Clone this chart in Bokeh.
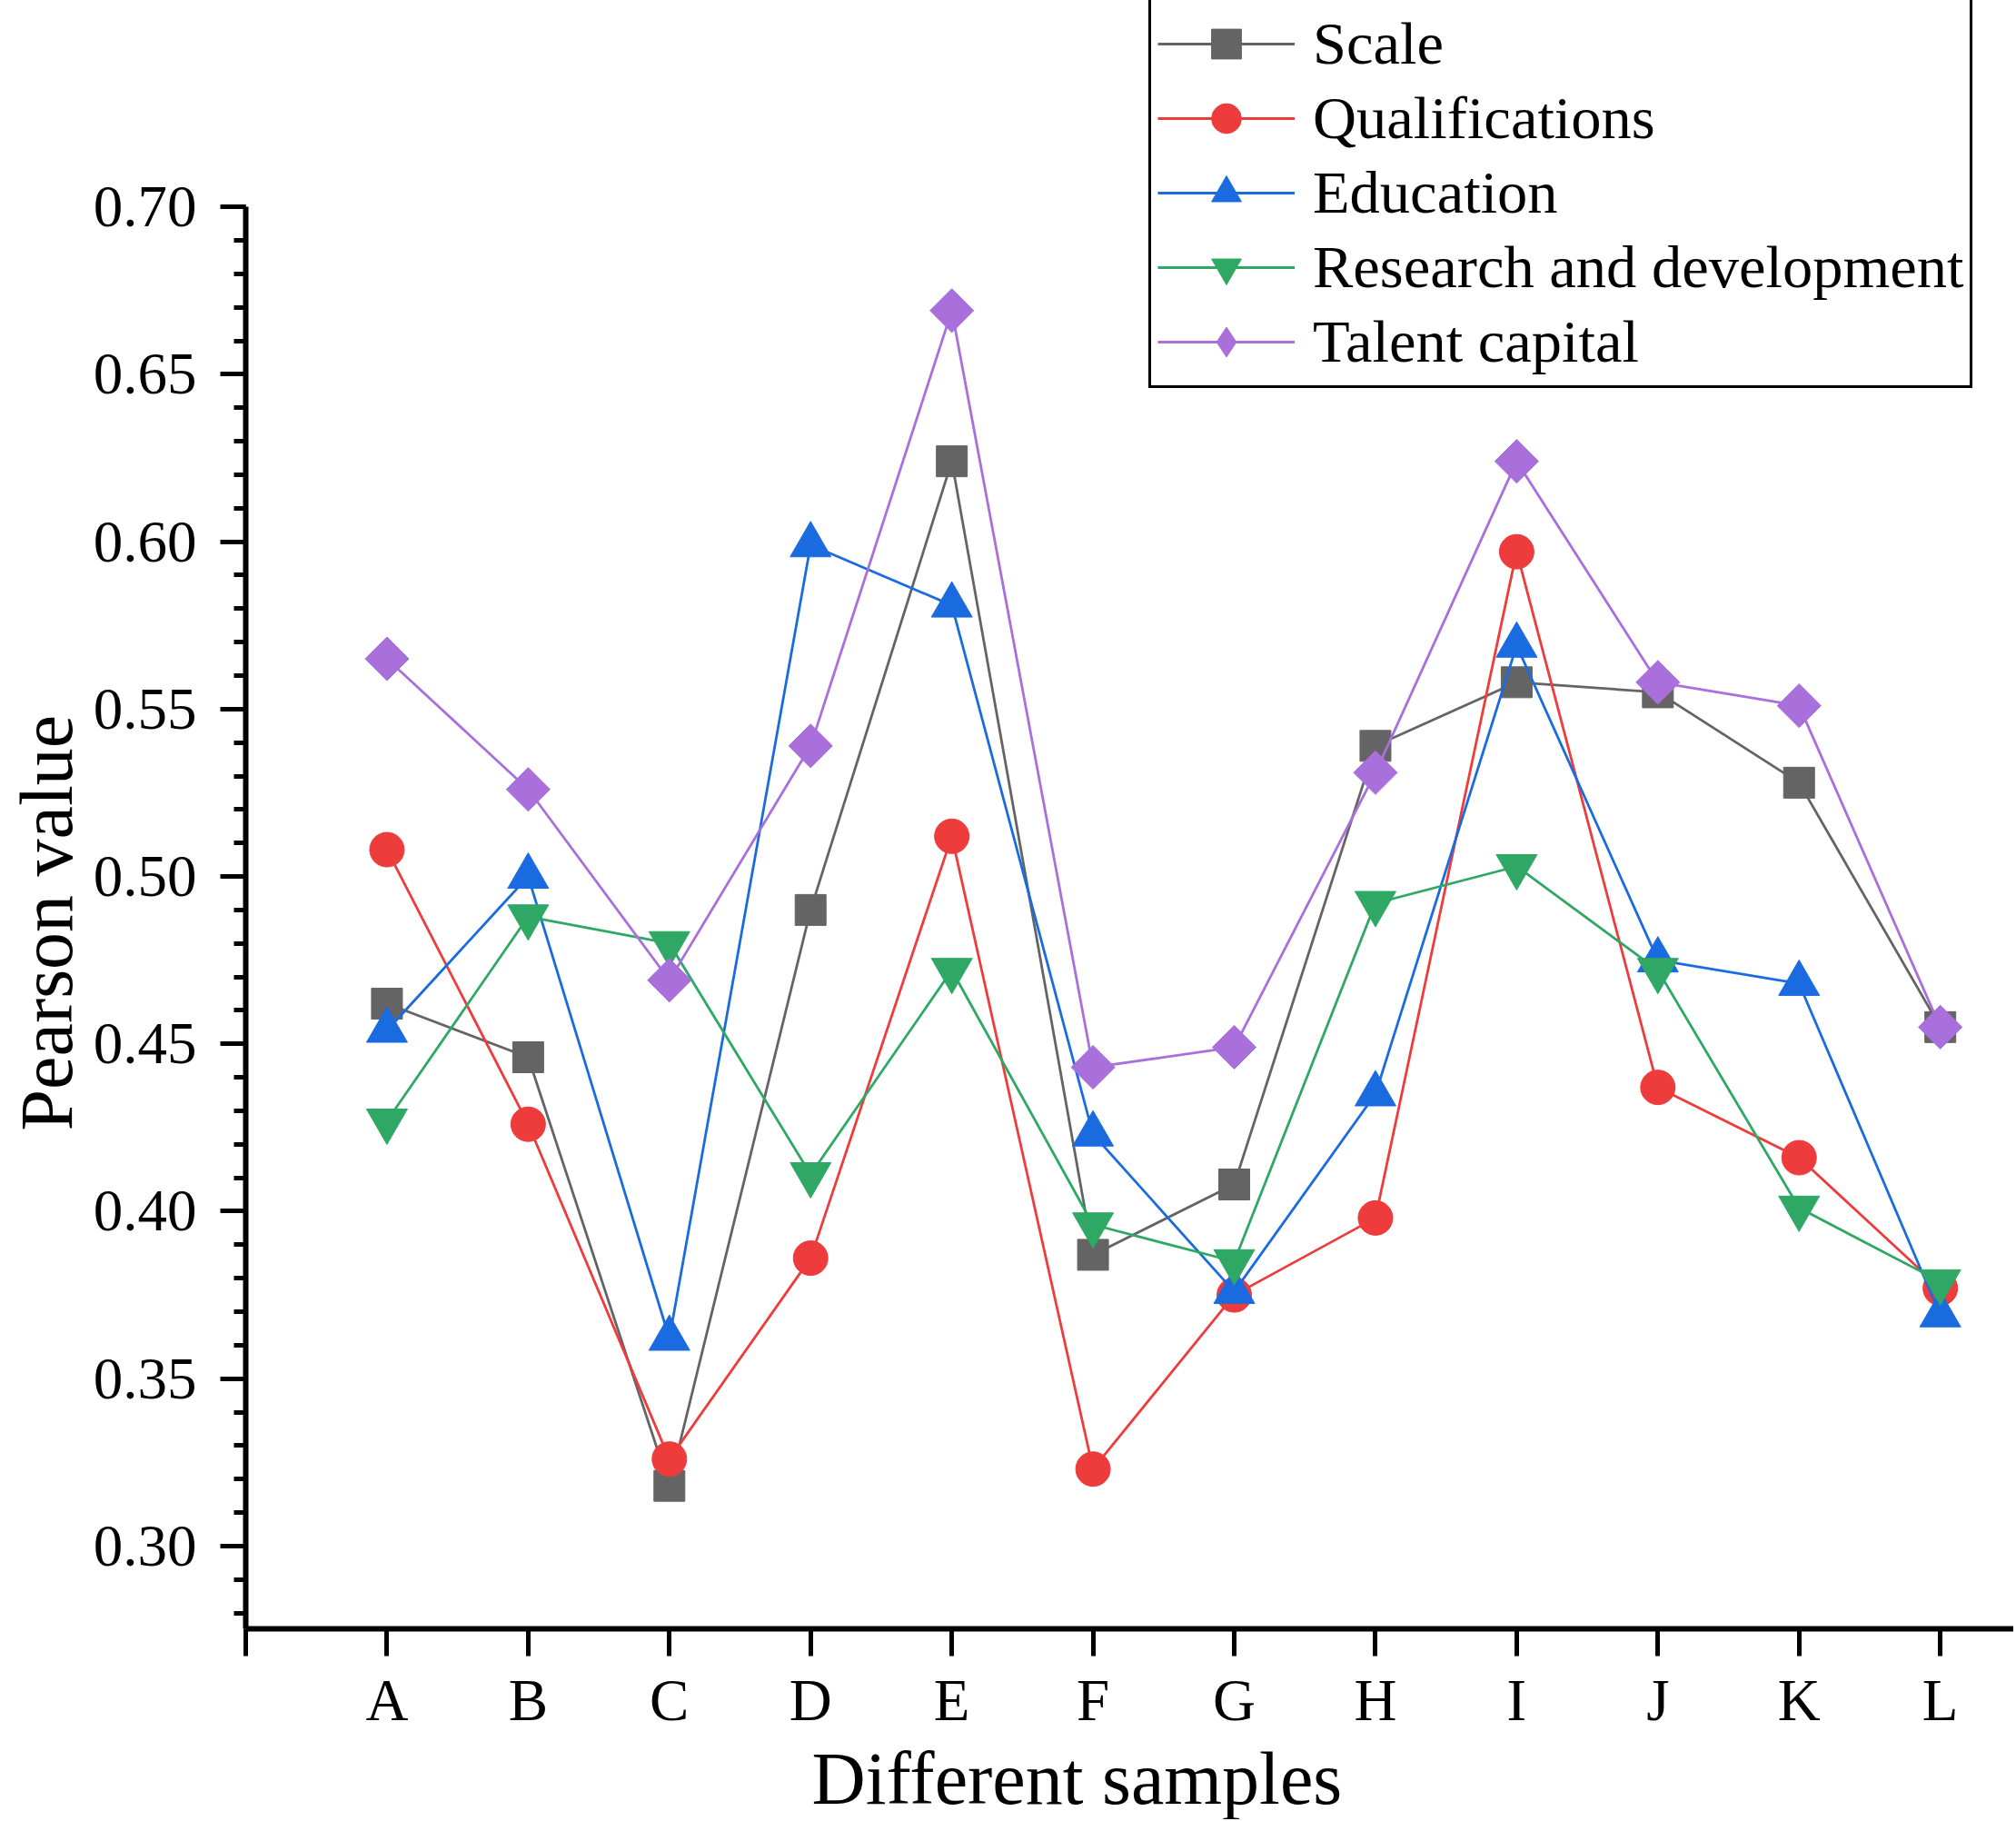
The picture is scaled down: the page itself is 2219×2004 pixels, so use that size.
import math
from bokeh.plotting import figure
from bokeh.models import Range1d, FixedTicker, Legend, LegendItem, PrintfTickFormatter, Title
from bokeh.embed import file_html
from bokeh.resources import INLINE

# ---------------- data ----------------
samples = ["A", "B", "C", "D", "E", "F", "G", "H", "I", "J", "K", "L"]
scale = [0.462, 0.446, 0.318, 0.490, 0.624, 0.387, 0.408, 0.539, 0.558, 0.555, 0.528, 0.455]
qualifications = [0.508, 0.426, 0.326, 0.386, 0.512, 0.323, 0.375, 0.398, 0.597, 0.437, 0.416, 0.377]
education = [0.454, 0.500, 0.362, 0.599, 0.581, 0.423, 0.376, 0.435, 0.569, 0.475, 0.468, 0.369]
research = [0.427, 0.488, 0.480, 0.411, 0.472, 0.396, 0.385, 0.492, 0.503, 0.472, 0.401, 0.379]
talent = [0.565, 0.526, 0.469, 0.539, 0.669, 0.443, 0.449, 0.531, 0.624, 0.558, 0.551, 0.455]

series_names = ["Scale", "Qualifications", "Education", "Research and development", "Talent capital"]
y_ticks = [0.30, 0.35, 0.40, 0.45, 0.50, 0.55, 0.60, 0.65, 0.70]
y_minor_ticks = [round(0.28 + 0.01 * i, 2) for i in range(43)]
x_title = "Different samples"
y_title = "Pearson value"

# ---------------- styles ----------------
colors = ["#646464", "#EE3B3B", "#1B6BE0", "#2EA864", "#A96FDB"]
markers = ["square", "circle", "triangle", "inverted_triangle", "square"]
legend_markers = ["square", "circle", "triangle", "inverted_triangle", "diamond"]
sizes = [34, 38, 45, 45, 34]
angles = [0, 0, 0, 0, math.pi / 4]
FONT = "Liberation Serif"

x = list(range(1, len(samples) + 1))
series = [scale, qualifications, education, research, talent]

W, H = 2216, 2002
FRAME_H = 1791           # expected frame height (canvas px)
PX_PER_UNIT = 3682.5     # vertical scale
Y_END = 0.70 + 227 / PX_PER_UNIT
Y_START = Y_END - FRAME_H / PX_PER_UNIT

p = figure(width=W, height=H, output_backend="svg", toolbar_location=None,
           title=None,
           x_range=Range1d(0, 12.52), y_range=Range1d(Y_START, Y_END),
           min_border_left=270, min_border_top=0, min_border_right=0,
           min_border_bottom=200)
p.background_fill_color = "white"
p.border_fill_color = "white"
p.outline_line_color = None
p.xgrid.grid_line_color = None
p.ygrid.grid_line_color = None

items = []
for name, vals, col, mk, lmk, sz, ang in zip(series_names, series, colors, markers,
                                             legend_markers, sizes, angles):
    rl = p.line(x, vals, line_color=col, line_width=2.8)
    rleg = None
    if lmk != mk:
        # legend-only glyph, hidden beneath the plotted marker
        rleg = p.scatter(x[:1], vals[:1], marker=lmk, size=sz, fill_color=col,
                         line_color=col, line_width=1)
    rm = p.scatter(x, vals, marker=mk, size=sz, angle=ang,
                   fill_color=col, line_color=col, line_width=1)
    items.append(LegendItem(label=name, renderers=[rl, rleg if rleg is not None else rm]))

# x axis
p.xaxis.ticker = FixedTicker(ticks=[0] + x)
p.xaxis.major_label_overrides = {0: "", **{i: s for i, s in zip(x, samples)}}
p.xaxis.major_tick_out = 30
p.xaxis.major_tick_in = 0
p.xaxis.minor_tick_out = 0
p.xaxis.minor_tick_in = 0
p.xaxis.major_label_standoff = 12

# y axis
p.yaxis.ticker = FixedTicker(ticks=y_ticks, minor_ticks=y_minor_ticks)
p.yaxis.formatter = PrintfTickFormatter(format="%.2f")
p.yaxis.bounds = (Y_START, 0.70)
p.yaxis.major_tick_out = 28
p.yaxis.major_tick_in = 0
p.yaxis.minor_tick_out = 13
p.yaxis.minor_tick_in = 0
p.yaxis.major_label_standoff = 26

for ax in (p.xaxis, p.yaxis):
    ax.axis_line_width = 6
    ax.axis_line_color = "black"
    ax.major_tick_line_width = 5
    ax.minor_tick_line_width = 5
    ax.major_tick_line_color = "black"
    ax.minor_tick_line_color = "black"
    ax.major_label_text_font = FONT
    ax.major_label_text_font_size = "65px"
    ax.major_label_text_color = "black"

# axis titles (side titles, positioned like the original)
xt = Title(text=x_title, align="left", offset=623, standoff=0,
           text_font=FONT, text_font_size="82px", text_font_style="normal",
           text_color="black")
p.add_layout(xt, "below")
yt = Title(text=y_title, align="left", offset=548, standoff=6,
           text_font=FONT, text_font_size="82px", text_font_style="normal",
           text_color="black")
p.add_layout(yt, "left")

legend_h = 5 * 82 + 2 * 7
legend = Legend(items=items, location=(994, FRAME_H - legend_h - 2))
legend.label_text_font = FONT
legend.label_text_font_size = "66.5px"
legend.label_text_color = "black"
legend.glyph_width = 151
legend.glyph_height = 82
legend.label_height = 82
legend.label_standoff = 20
legend.padding = 7
legend.spacing = 0
legend.margin = 0
legend.border_line_color = "black"
legend.border_line_alpha = 1.0
legend.border_line_width = 3
legend.background_fill_color = "white"
legend.background_fill_alpha = 1.0
p.add_layout(legend)

open("out.html", "w").write(file_html(p, INLINE))
